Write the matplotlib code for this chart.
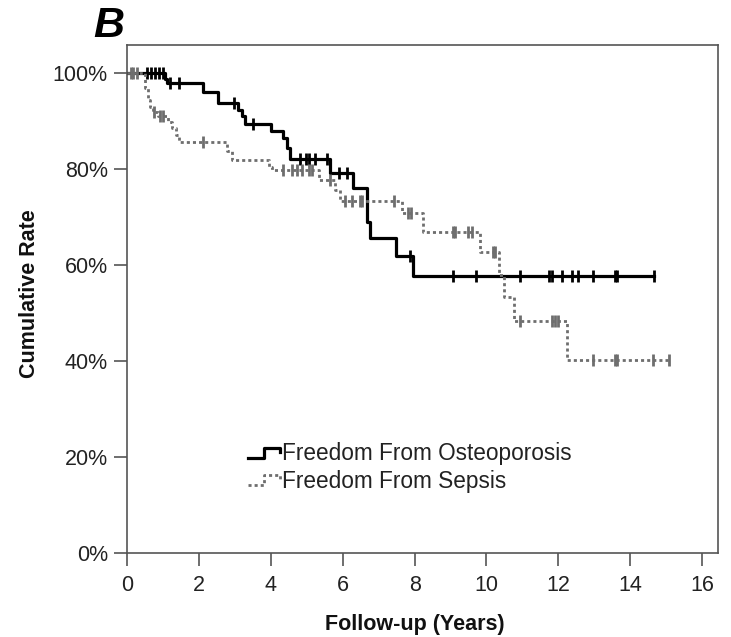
import numpy as np
import matplotlib
matplotlib.use("Agg")
import matplotlib.pyplot as plt
from matplotlib.lines import Line2D
from matplotlib.legend_handler import HandlerLine2D
from matplotlib.ticker import PercentFormatter

plt.rcParams['font.family'] = ['Liberation Sans', 'DejaVu Sans']

# Kaplan-Meier steps: event times (years) and cumulative rate (%)
osteo_t = [0, 1.05, 1.11, 2.12, 2.54, 3.09, 3.19, 3.28, 4.0, 4.35, 4.46, 4.54,
           5.64, 6.29, 6.68, 6.77, 7.48, 7.97]
osteo_s = [100, 98.9, 97.9, 96.0, 93.8, 92.4, 91.0, 89.4, 87.9, 86.5, 84.4, 82.2,
           79.2, 76.0, 68.9, 65.6, 61.9, 57.8]
osteo_end = 14.66
osteo_cens = [0.55, 0.67, 0.79, 0.88, 0.99, 1.21, 1.44, 2.97, 3.5, 4.82, 4.98,
              5.05, 5.23, 5.56, 5.89, 6.12, 7.87, 9.06, 9.72, 10.93, 11.75, 11.82,
              12.1, 12.37, 12.55, 12.97, 13.58, 13.64, 14.66]

sep_t = [0, 0.5, 0.58, 0.65, 0.72, 0.85, 1.15, 1.25, 1.35, 1.45, 2.77, 2.91,
         3.94, 4.03, 5.33, 5.79, 5.93, 7.65, 8.24, 9.81, 10.34, 10.48, 10.76, 12.23]
sep_s = [100, 97.0, 94.5, 93.0, 92.0, 91.0, 89.8, 88.5, 87.2, 85.6, 83.7, 82.0,
         80.5, 79.9, 77.8, 75.7, 73.3, 70.8, 67.0, 62.8, 58.0, 53.4, 48.4, 40.2]
sep_end = 15.08
sep_cens = [0.1, 0.18, 0.27, 0.74, 0.93, 0.99, 2.12, 4.35, 4.6, 4.73, 4.86, 5.05,
            5.15, 5.66, 6.07, 6.26, 6.49, 6.54, 7.42, 7.83, 7.9, 9.07, 9.12, 9.5,
            9.6, 10.19, 10.23, 10.94, 11.83, 11.9, 11.99, 12.97, 13.58, 13.64,
            14.62, 15.08]

labels = ['Freedom From Osteoporosis', 'Freedom From Sepsis']


def level_at(times, surv, t):
    idx = np.searchsorted(times, t, side='right') - 1
    return np.asarray(surv)[idx]


class StepHandler(HandlerLine2D):
    # little staircase glyph like the SPSS legend
    def create_artists(self, legend, orig_handle, xdescent, ydescent,
                       width, height, fontsize, trans):
        xs = np.array([0, 0.5, 0.5, 1.0, 1.0]) * width - xdescent
        ys = np.array([0.15, 0.15, 0.8, 0.8, 0.55]) * height - ydescent
        line = Line2D(xs, ys)
        self.update_prop(line, orig_handle, legend)
        line.set_transform(trans)
        return [line]


fig = plt.figure(figsize=(7.31, 6.37), dpi=100)
ax = fig.add_axes([0.1737, 0.1319, 0.8085, 0.7975])

styles = [
    dict(color='black', lw=2.3, ls='-'),
    dict(color='#6e6e6e', lw=2.0, ls=(0, (1.1, 1.1))),
]
curves = [(osteo_t, osteo_s, osteo_end, osteo_cens),
          (sep_t, sep_s, sep_end, sep_cens)]

handles = []
for (t, s, end, cens), st, lab in zip(curves, styles, labels):
    tt = list(t) + [end]
    ss = list(s) + [s[-1]]
    ln, = ax.step(tt, ss, where='post', label=lab, **st)
    handles.append(ln)
    ax.plot(cens, level_at(t, s, cens), ls='none', marker='|',
            ms=9, mew=2.0, color=st['color'])

ax.set_xlim(0, 16.44)
ax.set_ylim(0, 105.9)
ax.set_xticks(range(0, 17, 2))
ax.set_yticks(range(0, 101, 20))
ax.yaxis.set_major_formatter(PercentFormatter(decimals=0))

for sp in ax.spines.values():
    sp.set_color('#555555')
    sp.set_linewidth(1.2)
ax.tick_params(direction='out', length=9.5, width=1.2, color='#555555',
               labelsize=15.5, labelcolor='#222222')
ax.tick_params(axis='x', pad=6)
ax.tick_params(axis='y', pad=4.3)

ax.set_xlabel('Follow-up (Years)', fontsize=15.5, fontweight='bold', color='#111111')
ax.xaxis.set_label_coords(0.487, -0.12)
ax.set_ylabel('Cumulative Rate', fontsize=15.5, fontweight='bold', color='#111111')
ax.yaxis.set_label_coords(-0.148, 0.51)

ax.legend(handles=handles, loc='upper left', bbox_to_anchor=(0.205, 0.218),
          frameon=False, fontsize=16.3, handlelength=1.4, handletextpad=0.1,
          labelspacing=0.2, borderpad=0, borderaxespad=0,
          handler_map={Line2D: StepHandler()}, labelcolor='#222222')

fig.text(0.127, 0.942, 'B', fontsize=31, fontweight='bold', fontstyle='italic',
         color='black', ha='left', va='baseline')

fig.savefig('out.png', dpi=100)
